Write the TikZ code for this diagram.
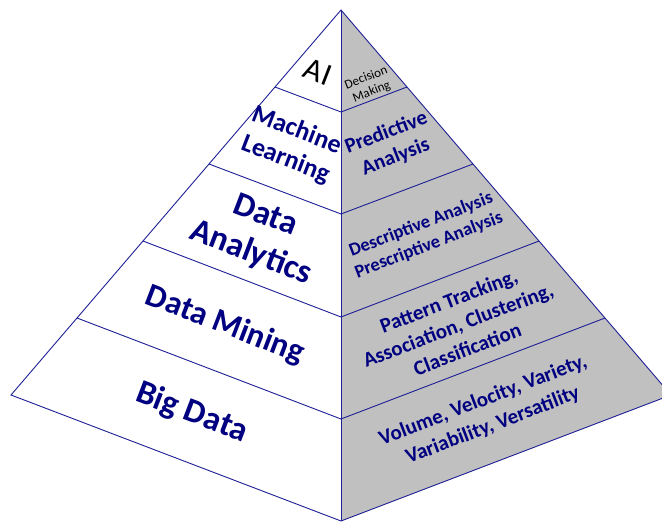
\documentclass[tikz,border=0pt]{standalone}
\usepackage{fontspec}
\setmainfont{Carlito}
\usepackage{tikz}

\definecolor{edgeblue}{RGB}{30,30,150}
\definecolor{textnavy}{RGB}{0,0,128}
\definecolor{facegray}{RGB}{192,192,192}

\begin{document}
\begin{tikzpicture}[x=1bp,y=-1bp,
  edge/.style={draw=edgeblue,line width=0.9bp},
  lefttext/.style={text=textnavy,font=\bfseries,align=center,rotate=-21,inner sep=0pt},
  righttext/.style={text=textnavy,font=\bfseries,align=center,rotate=21,inner sep=0pt}]
\useasboundingbox (0,0) rectangle (662,523);

\coordinate (apex) at (341,10);
\coordinate (lc) at (11,395);
\coordinate (bc) at (341,521);
\coordinate (rc) at (671,395);

\coordinate (l1) at (275,87);  \coordinate (c1) at (341,112); \coordinate (r1) at (407,87);
\coordinate (l2) at (209,164); \coordinate (c2) at (341,214); \coordinate (r2) at (473,164);
\coordinate (l3) at (143,241); \coordinate (c3) at (341,317); \coordinate (r3) at (539,241);
\coordinate (l4) at (77,318);  \coordinate (c4) at (341,419); \coordinate (r4) at (605,318);

\fill[white] (apex) -- (lc) -- (bc) -- cycle;
\fill[facegray] (apex) -- (bc) -- (rc) -- cycle;
\draw[edge] (apex) -- (lc) -- (bc) -- (rc) -- cycle;
\draw[edge] (apex) -- (bc);

\draw[edge] (l1) -- (c1) -- (r1);
\draw[edge] (l2) -- (c2) -- (r2);
\draw[edge] (l3) -- (c3) -- (r3);
\draw[edge] (l4) -- (c4) -- (r4);

% left face
\node[lefttext,text=black,font=\fontsize{32}{36}\selectfont] (ai) at (318,72) {AI};
\node[lefttext,font=\bfseries\fontsize{26}{31}\selectfont] (ml) at (291,145) {Machine\\Learning};
\node[lefttext,font=\bfseries\fontsize{34}{40}\selectfont] (da) at (258,235) {Data\\Analytics};
\node[lefttext,font=\bfseries\fontsize{33}{38}\selectfont] (dm) at (225,325) {Data Mining};
\node[lefttext,font=\bfseries\fontsize{34}{38}\selectfont] (bd) at (192,413) {Big Data};

% right face
\node[righttext,text=black,font=\fontsize{13}{15}\selectfont] (dec) at (369,85) {Decision\\Making};
\node[righttext,font=\bfseries\fontsize{21}{26}\selectfont] (pa) at (391,145) {Predictive\\Analysis};
\node[righttext,font=\bfseries\fontsize{18.5}{22}\selectfont] (dpa) at (425,235) {Descriptive Analysis\\Prescriptive Analysis};
\node[righttext,font=\bfseries\fontsize{21}{26}\selectfont] (pt) at (458,325) {Pattern Tracking,\\Association, Clustering,\\Classification};
\node[righttext,font=\bfseries\fontsize{21}{27}\selectfont] (vv) at (488,413) {Volume, Velocity, Variety,\\Variability, Versatility};
\end{tikzpicture}
\end{document}
